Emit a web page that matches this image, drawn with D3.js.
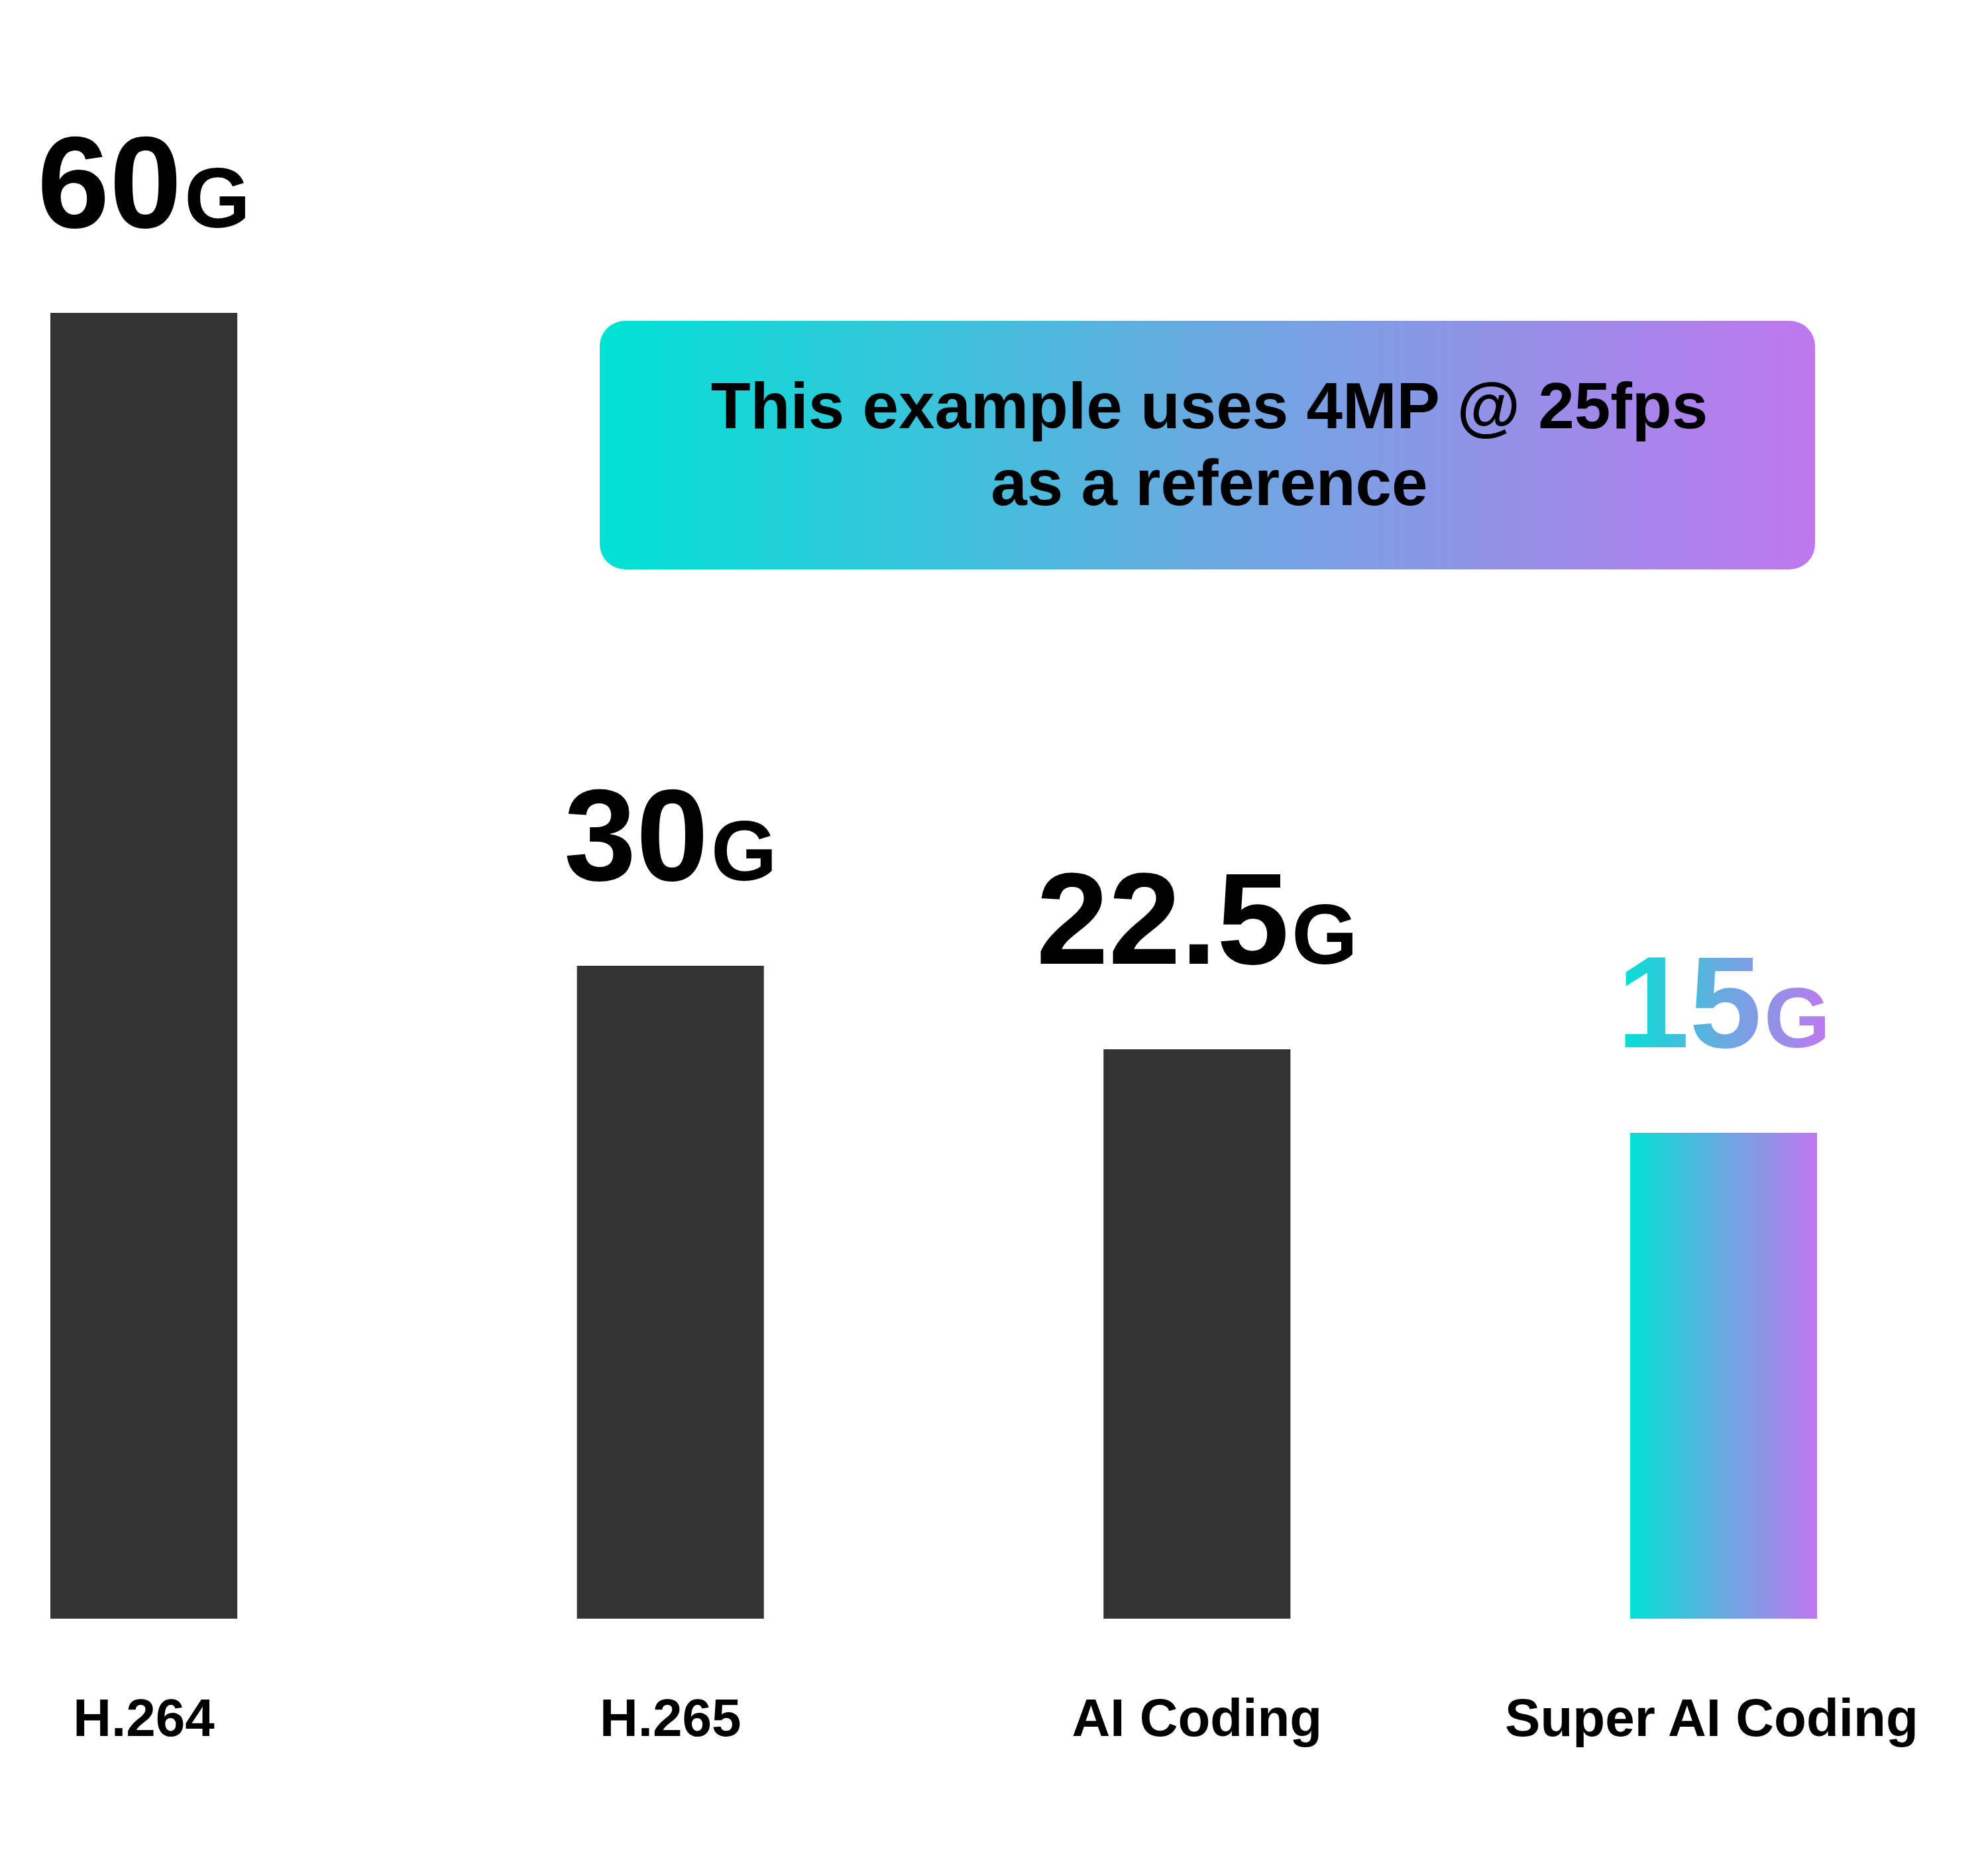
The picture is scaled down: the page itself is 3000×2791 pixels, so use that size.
<!DOCTYPE html>
<html>
<head>
<meta charset="utf-8">
<script src="https://cdn.jsdelivr.net/npm/d3@7"></script>
<style>
  body { margin: 0; background: #fff; }
  text { font-family: "Liberation Sans", Arial, Helvetica, sans-serif; font-weight: 700; }
</style>
</head>
<body>
<div id="chart"></div>
<script>
// data
var categories = ["H.264", "H.265", "AI Coding", "Super AI Coding"];
var values = [60, 30, 22.5, 15];
var unit = "G";
var highlight = "Super AI Coding";
var noteLines = ["This example uses 4MP @ 25fps", "as a reference"];

var width = 3000, height = 2791;
var baseY = 2442;

var svg = d3.select("#chart")
            .append("svg")
            .attr("width", width)
            .attr("height", height);

var defs = svg.append("defs");
function addGradient(id, units) {
  var g = defs.append("linearGradient")
              .attr("id", id)
              .attr("x1", 0).attr("x2", 1).attr("y1", 0).attr("y2", 0);
  if (units) g.attr("gradientUnits", units);
  g.append("stop").attr("offset", "0%").attr("stop-color", "#00e2d4");
  g.append("stop").attr("offset", "50%").attr("stop-color", "#6aa9e1");
  g.append("stop").attr("offset", "100%").attr("stop-color", "#bf77ee");
  return g;
}
addGradient("barGrad");
addGradient("boxGrad");
var textGrad = addGradient("textGrad", "userSpaceOnUse");

// bars are not drawn to scale in the original, so the value scale is piecewise
var x = d3.scaleBand()
          .domain(categories)
          .range([76, 2742])
          .paddingInner(0.645)
          .paddingOuter(0);

var y = d3.scaleLinear()
          .domain([0, 15, 30, 60])
          .range([baseY, 1709, 1457, 472]);

var rows = categories.map(function (c, i) { return {name: c, value: values[i]}; });

// note box
var box = svg.append("g").classed("note", true);
box.append("rect")
   .attr("x", 905).attr("y", 484)
   .attr("width", 1834).attr("height", 375)
   .attr("rx", 38).attr("ry", 38)
   .attr("fill", "url(#boxGrad)");
box.selectAll("text")
   .data(noteLines)
   .enter()
   .append("text")
     .attr("x", 1825)
     .attr("y", function (d, i) { return 646 + i * 116; })
     .attr("text-anchor", "middle")
     .style("font-size", "98px")
     .attr("fill", "#000")
     .text(function (d) { return d; });

// bars
svg.selectAll(".bar")
   .data(rows)
   .enter()
   .append("rect")
     .classed("bar", true)
     .attr("x", function (d) { return x(d.name); })
     .attr("y", function (d) { return y(d.value); })
     .attr("width", x.bandwidth())
     .attr("height", function (d) { return baseY - y(d.value); })
     .attr("fill", function (d) { return d.name === highlight ? "url(#barGrad)" : "#333333"; });

// value labels
var labels = svg.selectAll(".value")
   .data(rows)
   .enter()
   .append("text")
     .classed("value", true)
     .attr("x", function (d) { return x(d.name) + x.bandwidth() / 2; })
     .attr("y", function (d) { return y(d.value) - 129; })
     .attr("text-anchor", "middle")
     .attr("fill", function (d) { return d.name === highlight ? "url(#textGrad)" : "#000"; });
labels.append("tspan").style("font-size", "196px").text(function (d) { return d.value; });
labels.append("tspan").attr("dx", 4).style("font-size", "128px").text(unit);

labels.filter(function (d) { return d.name === highlight; })
      .each(function () {
        var b = this.getBBox();
        textGrad.attr("x1", b.x).attr("x2", b.x + b.width);
      });

// category labels (the last one sits a little left of its bar in the original)
svg.selectAll(".cat")
   .data(rows)
   .enter()
   .append("text")
     .classed("cat", true)
     .attr("x", function (d) { return x(d.name) + x.bandwidth() / 2; })
     .attr("dx", function (d) { return d.name === highlight ? -18 : 0; })
     .attr("y", 2619)
     .attr("text-anchor", "middle")
     .style("font-size", "80px")
     .attr("fill", "#000")
     .text(function (d) { return d.name; });
</script>
</body>
</html>
